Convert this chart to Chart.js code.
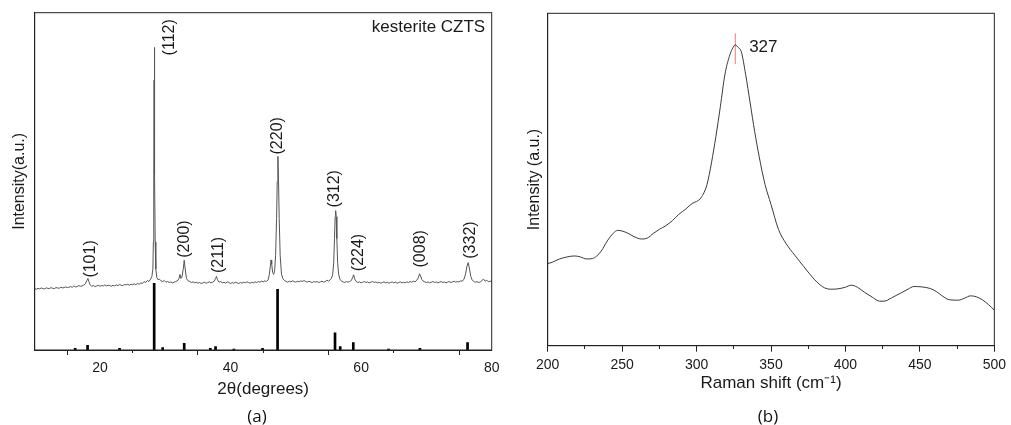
<!DOCTYPE html>
<html><head><meta charset="utf-8">
<script src="https://cdn.jsdelivr.net/npm/chart.js@4.4.1/dist/chart.umd.min.js"></script>
<style>
html,body{margin:0;padding:0;background:#fff;width:1011px;height:425px;overflow:hidden;}
#wa{position:absolute;left:0;top:0;width:510px;height:425px;}
#wb{position:absolute;left:510px;top:0;width:501px;height:425px;}
.cap{position:absolute;font-family:"Open Sans","Liberation Sans",sans-serif;font-size:17px;color:#111;transform:translate(-50%,-50%);white-space:nowrap;}
</style></head><body>
<div id="wa"><canvas id="ca" width="510" height="425"></canvas></div>
<div id="wb"><canvas id="cb" width="501" height="425"></canvas></div>
<div class="cap" style="left:257px;top:415px">(a)</div>
<div class="cap" style="left:768px;top:415px">(b)</div>
<script>
// ---------- (a) XRD pattern: [2theta, intensity a.u.] ----------
const xrdPoints = [
[10.00,182],[10.25,180],[10.50,183],[10.75,181],[11.00,184],[11.25,182],[11.50,181],[11.75,184],
[12.00,183],[12.25,182],[12.50,185],[12.75,183],[13.00,182],[13.25,185],[13.50,184],[13.75,183],
[14.00,186],[14.25,184],[14.50,185],[14.75,187],[15.00,185],[15.25,186],[15.50,188],[15.75,186],
[16.00,190],[16.25,187],[16.50,188],[16.75,191],[17.00,189],[17.25,190],[17.50,192],[17.75,196],
[18.00,206],[18.15,212],[18.30,203],[18.50,193],[18.75,189],[19.00,191],[19.25,188],[19.50,190],
[19.75,192],[20.00,189],[20.25,191],[20.50,190],[20.75,193],[21.00,190],[21.25,192],[21.50,191],
[21.75,189],[22.00,192],[22.25,190],[22.50,193],[22.75,191],[23.00,194],[23.25,192],[23.50,191],
[23.75,194],[24.00,193],[24.25,195],[24.50,192],[24.75,195],[25.00,194],[25.25,196],[25.50,194],
[25.75,197],[26.00,195],[26.25,199],[26.50,197],[26.75,203],[27.00,200],[27.25,206],[27.50,203],
[27.75,210],[27.95,218],[28.10,240],[28.18,320],[28.24,520],[28.29,800],[28.32,897],[28.35,800],
[28.40,520],[28.46,320],[28.55,240],[28.70,215],[28.90,208],[29.10,210],[29.35,205],[29.60,203],
[29.85,206],[30.10,201],[30.35,203],[30.60,200],[30.85,202],[31.10,199],[31.35,201],[31.60,203],
[31.85,205],[32.10,212],[32.25,224],[32.40,212],[32.55,216],[32.75,240],[32.90,266],[33.05,240],
[33.25,212],[33.50,205],[33.75,203],[34.00,200],[34.25,202],[34.50,199],[34.75,201],[35.00,198],
[35.25,200],[35.50,197],[35.75,199],[36.00,201],[36.25,198],[36.50,200],[36.75,202],[37.00,199],
[37.25,201],[37.50,204],[37.70,212],[37.85,218],[38.00,208],[38.25,201],[38.50,203],[38.75,199],
[39.00,201],[39.25,198],[39.50,202],[39.75,200],[40.00,197],[40.25,200],[40.50,198],[40.75,201],
[41.00,199],[41.25,197],[41.50,200],[41.75,198],[42.00,201],[42.25,199],[42.50,202],[42.75,200],
[43.00,198],[43.25,201],[43.50,199],[43.75,202],[44.00,200],[44.25,203],[44.50,201],[44.75,204],
[45.00,202],[45.25,205],[45.50,203],[45.75,208],[45.95,225],[46.10,250],[46.20,267],[46.30,255],
[46.45,230],[46.60,224],[46.75,235],[46.90,280],[47.05,390],[47.15,500],[47.25,574],[47.35,500],
[47.45,390],[47.60,280],[47.80,225],[48.00,212],[48.25,206],[48.50,203],[48.75,201],[49.00,204],
[49.25,202],[49.50,205],[49.75,203],[50.00,201],[50.25,204],[50.50,202],[50.75,205],[51.00,203],
[51.25,206],[51.50,203],[51.75,201],[52.00,204],[52.25,202],[52.50,200],[52.75,203],[53.00,201],
[53.25,203],[53.50,200],[53.75,202],[54.00,204],[54.25,201],[54.50,203],[54.75,207],[55.00,204],
[55.25,208],[55.45,212],[55.65,225],[55.80,260],[55.92,330],[56.02,395],[56.10,413],[56.18,395],
[56.28,330],[56.40,260],[56.55,225],[56.75,210],[57.00,204],[57.25,202],[57.50,200],[57.75,203],
[58.00,201],[58.25,203],[58.50,206],[58.70,215],[58.85,223],[59.00,211],[59.25,203],[59.50,200],
[59.75,202],[60.00,199],[60.25,201],[60.50,203],[60.75,200],[61.00,202],[61.25,199],[61.50,201],
[61.75,203],[62.00,200],[62.25,202],[62.50,199],[62.75,201],[63.00,198],[63.25,200],[63.50,202],
[63.75,199],[64.00,201],[64.25,198],[64.50,200],[64.75,202],[65.00,199],[65.25,201],[65.50,198],
[65.75,200],[66.00,202],[66.25,199],[66.50,201],[66.75,199],[67.00,202],[67.25,200],[67.50,203],
[67.75,201],[68.00,204],[68.25,202],[68.50,206],[68.75,214],[68.95,226],[69.10,220],[69.30,209],
[69.50,204],[69.75,202],[70.00,200],[70.25,202],[70.50,199],[70.75,201],[71.00,203],[71.25,200],
[71.50,202],[71.75,199],[72.00,201],[72.25,203],[72.50,200],[72.75,202],[73.00,199],[73.25,201],
[73.50,203],[73.75,200],[74.00,202],[74.25,204],[74.50,201],[74.75,203],[75.00,202],[75.25,205],
[75.50,204],[75.75,210],[76.00,225],[76.20,248],[76.40,259],[76.60,240],[76.80,218],[77.00,208],
[77.25,203],[77.50,201],[77.75,203],[78.00,200],[78.25,202],[78.50,206],[78.75,210],[79.00,204],
[79.25,207],[79.50,202],[79.75,204],[80.00,203]
];
// reference (JCPDS) stick pattern: [2theta, relative height]
const refSticks = [
[16.2,5],[18.1,14],[23.0,5],[28.3,198],[29.6,7],[32.9,20],[36.9,5],[37.7,10],[40.5,3],
[44.9,5],[47.2,180],[56.0,51],[56.8,10],[58.8,22],[64.2,3],[69.0,5],[76.3,22]
];
const peakLabels = ['(101)','(112)','(200)','(211)','(220)','(312)','(224)','(008)','(332)'];
const peakLabelX = [18.5, 30.7, 33.0, 38.1, 47.2, 56.0, 59.6, 69.1, 76.7];
const peakLabelY = [270, 927, 329, 282, 635, 478, 289, 300, 326];
const xrdTicks = [10, 20, 30, 40, 50, 60, 70, 80];

// ---------- (b) Raman spectrum: [shift cm-1, intensity a.u.] ----------
const ramanPoints = [
[200,247],[203,251],[208,261],[213,267],[218,270],[222,267],[226,261],[230,262],[233,270],
[236,285],[240,315],[244,338],[247,347],[250,345],[254,338],[258,328],[263,321],[267,324],
[271,338],[275,350],[279,360],[284,377],[288,395],[293,412],[297,428],[300,434],[303,445],
[307,485],[310,550],[313,630],[316,720],[319,815],[322,870],[324,893],[326,905],[328,897],
[330,885],[333,815],[336,730],[339,645],[342,570],[346,485],[350,425],[355,350],[360,308],
[366,272],[372,238],[379,200],[383,183],[386,174],[390,170],[395,171],[400,176],[404,182],
[408,176],[413,160],[418,146],[423,134],[426,134],[431,144],[437,158],[442,170],[446,178],
[451,177],[457,172],[461,163],[465,150],[470,138],[476,137],[480,143],[484,150],[488,147],
[492,138],[496,124],[500,107]
];
const ramanPeakX = 326;
const ramanPeakLabel = '327';
const ramanMarker = [[326,847],[326,940]];

const FONT = '"Liberation Sans", Arial, sans-serif';
const INK = '#1a1a1a';

const framePlugin = {
  id: 'frame',
  afterDraw(chart) {
    const a = chart.chartArea, ctx = chart.ctx;
    ctx.save();
    ctx.strokeStyle = '#222';
    ctx.lineWidth = 1;
    ctx.strokeRect(a.left, a.top, a.right - a.left, a.bottom - a.top);
    ctx.restore();
  }
};

const xrdLabelPlugin = {
  id: 'xrdLabels',
  afterDatasetsDraw(chart) {
    const ctx = chart.ctx, xs = chart.scales.x, ys = chart.scales.y, a = chart.chartArea;
    ctx.save();
    ctx.fillStyle = INK;
    ctx.font = '16px ' + FONT;
    ctx.textAlign = 'center';
    ctx.textBaseline = 'middle';
    peakLabels.forEach((t, i) => {
      ctx.save();
      ctx.translate(xs.getPixelForValue(peakLabelX[i]), ys.getPixelForValue(peakLabelY[i]));
      ctx.rotate(-Math.PI / 2);
      ctx.fillText(t, 0, 0);
      ctx.restore();
    });
    ctx.font = '17px ' + FONT;
    ctx.textAlign = 'right';
    ctx.fillText('kesterite CZTS', a.right - 6.5, a.top + 14.5);
    ctx.restore();
  }
};

const ramanLabelPlugin = {
  id: 'ramanLabel',
  afterDatasetsDraw(chart) {
    const ctx = chart.ctx, xs = chart.scales.x, ys = chart.scales.y;
    ctx.save();
    ctx.fillStyle = INK;
    ctx.font = '17px ' + FONT;
    ctx.textAlign = 'left';
    ctx.textBaseline = 'middle';
    ctx.fillText(ramanPeakLabel, xs.getPixelForValue(335.3), ys.getPixelForValue(899));
    ctx.restore();
  }
};

function xAxis(min, max, step, labelEvery, tickLen, minorLen, titleText, titlePadBottom, height) {
  return {
    type: 'linear', min, max, offset: false,
    afterBuildTicks: s => { s.ticks = []; for (let v = min; v <= max; v += step) s.ticks.push({value: v}); },
    afterFit: s => { s.height = height; },
    ticks: {
      autoSkip: false, maxRotation: 0, padding: 5, color: INK,
      font: {family: FONT, size: 14},
      callback: v => (v % labelEvery === 0 && v !== 10) ? String(v) : ''
    },
    grid: {
      display: true, drawOnChartArea: false, drawTicks: true, tickLength: tickLen,
      tickColor: '#222', tickWidth: 1,
      tickBorderDash: c => (c.tick && c.tick.value % labelEvery !== 0) ? [minorLen, 60] : []
    },
    border: {display: true, color: '#222', width: 1},
    title: {display: true, text: titleText, color: INK, font: {family: FONT, size: 17},
            padding: {top: 0, bottom: titlePadBottom}}
  };
}
function yAxis(titleText, width, titlePad) {
  return {
    type: 'linear', min: 0, max: 1000,
    afterFit: s => { s.width = width; },
    ticks: {display: false},
    grid: {display: false},
    border: {display: true, color: '#222', width: 1},
    title: {display: true, text: titleText, color: INK, font: {family: FONT, size: 16},
            padding: {top: titlePad, bottom: 0}}
  };
}

new Chart(document.getElementById('ca'), {
  type: 'line',
  data: {
    datasets: [
      {
        type: 'line',
        data: xrdPoints.map(([x, y]) => ({x, y})),
        borderColor: '#555', borderWidth: 1, pointRadius: 0, tension: 0, fill: false
      },
      {
        type: 'bar',
        data: refSticks.map(([x, y]) => ({x, y})),
        backgroundColor: '#000', borderWidth: 0, barThickness: 2
      }
    ]
  },
  options: {
    responsive: false, animation: false, events: [],
    layout: {padding: {left: 0, right: 18.3, top: 12.7, bottom: 0}},
    plugins: {legend: {display: false}, tooltip: {enabled: false}},
    scales: {
      x: xAxis(10, 80, 10, 20, 5, 2, '2θ(degrees)', 25.8, 75),
      y: yAxis('Intensity(a.u.)', 34.7, 10.4)
    }
  },
  plugins: [framePlugin, xrdLabelPlugin]
});

new Chart(document.getElementById('cb'), {
  type: 'line',
  data: {
    datasets: [
      {
        data: ramanPoints.map(([x, y]) => ({x, y})),
        borderColor: '#3a3a3a', borderWidth: 1, pointRadius: 0,
        cubicInterpolationMode: 'monotone', fill: false
      },
      {
        data: ramanMarker.map(([x, y]) => ({x, y})),
        borderColor: '#f07a7a', borderWidth: 1, pointRadius: 0, fill: false
      }
    ]
  },
  options: {
    responsive: false, animation: false, events: [],
    layout: {padding: {left: 0, right: 13.3, top: 13.3, bottom: 0}},
    plugins: {legend: {display: false}, tooltip: {enabled: false}},
    scales: {
      x: xAxis(200, 500, 25, 50, 6, 3, 'Raman shift (cm⁻¹)', 31.8, 79.3),
      y: yAxis('Intensity (a.u.)', 37.7, 15.4)
    }
  },
  plugins: [framePlugin, ramanLabelPlugin]
});
</script>
</body></html>
